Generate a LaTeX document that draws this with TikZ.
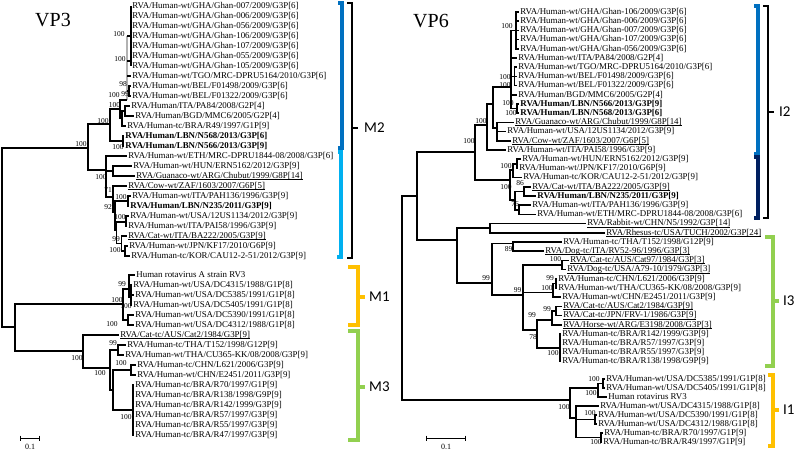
\documentclass[tikz,border=0pt]{standalone}
\usepackage{fontspec}
\setmainfont{Liberation Serif}
\newfontfamily\calib{Carlito}
\definecolor{cTop}{RGB}{0,112,192}
\definecolor{cLight}{RGB}{0,176,240}
\definecolor{cNavy}{RGB}{0,32,96}
\definecolor{cYel}{RGB}{255,192,0}
\definecolor{cGrn}{RGB}{146,208,80}
\newcommand\myul[1]{\setbox0=\hbox{#1}\rlap{\rule[-1.5pt]{\wd0}{0.65pt}}\box0}
\newcommand\leafn[4]{\node[lab] (#1) at (#2,#3) {#4};}
\newcommand\bsv[4]{\node[bsl] (#1) at (#2,#3) {#4};}
\begin{document}
\begin{tikzpicture}[x=1pt,y=-1pt,
  lab/.style={anchor=west,inner xsep=1.2pt,inner ysep=0pt,font=\fontsize{8.9}{9}\selectfont,text height=6.3pt,text depth=1.9pt},
  bsl/.style={inner sep=0pt,font=\fontsize{7.5}{8}\selectfont},
  tl/.style={line width=1.1pt},
  trr/.style={line width=1.7pt},
  cbr/.style={line width=3.5pt},
  kbr/.style={line width=1.8pt},
  clade/.style={font=\calib\fontsize{15}{16}\selectfont,anchor=west,inner sep=0pt},
  ttl/.style={font=\fontsize{20}{20}\selectfont,inner sep=0pt},
  scl/.style={font=\fontsize{8}{8}\selectfont,inner sep=0pt}]
\useasboundingbox (0,0) rectangle (800,450);
\fill[white] (0,0) rectangle (800,450);
% titles
\node[ttl] (t3) at (53,20) {VP3};
\node[ttl] (t6) at (431,21.5) {VP6};
%================ LEFT TREE (VP3) ================
\leafn{a1}{131}{6}{RVA/Human-wt/GHA/Ghan-007/2009/G3P[6]}
\leafn{a2}{131}{16}{RVA/Human-wt/GHA/Ghan-006/2009/G3P[6]}
\leafn{a3}{131}{26}{RVA/Human-wt/GHA/Ghan-056/2009/G3P[6]}
\leafn{a4}{131}{36}{RVA/Human-wt/GHA/Ghan-106/2009/G3P[6]}
\leafn{a5}{131}{46}{RVA/Human-wt/GHA/Ghan-107/2009/G3P[6]}
\leafn{a6}{131}{56}{RVA/Human-wt/GHA/Ghan-055/2009/G3P[6]}
\leafn{a7}{131}{66}{RVA/Human-wt/GHA/Ghan-105/2009/G3P[6]}
\leafn{a8}{131}{76}{RVA/Human-wt/TGO/MRC-DPRU5164/2010/G3P[6]}
\leafn{a9}{131}{86}{RVA/Human-wt/BEL/F01498/2009/G3P[6]}
\leafn{a10}{131}{96}{RVA/Human-wt/BEL/F01322/2009/G3P[6]}
\leafn{a11}{130}{106}{RVA/Human/ITA/PA84/2008/G2P[4]}
\leafn{a12}{134}{116}{RVA/Human/BGD/MMC6/2005/G2P[4]}
\leafn{a13}{126}{126}{RVA/Human-tc/BRA/R49/1997/G1P[9]}
\leafn{a14}{124}{136}{\textbf{RVA/Human/LBN/N568/2013/G3P[6]}}
\leafn{a15}{124}{146}{\textbf{RVA/Human/LBN/N566/2013/G3P[9]}}
\leafn{a16}{127}{156}{RVA/Human-wt/ETH/MRC-DPRU1844-08/2008/G3P[6]}
\leafn{a17}{132}{166}{RVA/Human-wt/HUN/ERN5162/2012/G3P[9]}
\leafn{a18}{135}{176}{\myul{RVA/Guanaco-wt/ARG/Chubut/1999/G8P[14]}}
\leafn{a19}{127}{186}{\myul{RVA/Cow-wt/ZAF/1603/2007/G6P[5]}}
\leafn{a20}{131}{196}{RVA/Human-wt/ITA/PAH136/1996/G3P[9]}
\leafn{a21}{129}{206}{\textbf{RVA/Human/LBN/N235/2011/G3P[9]}}
\leafn{a22}{129}{216}{RVA/Human-wt/USA/12US1134/2012/G3P[9]}
\leafn{a23}{127}{226}{RVA/Human-wt/ITA/PAI58/1996/G3P[9]}
\leafn{a24}{127}{236}{\myul{RVA/Cat-wt/ITA/BA222/2005/G3P[9]}}
\leafn{a25}{128}{246}{RVA/Human-wt/JPN/KF17/2010/G6P[9]}
\leafn{a26}{130}{256}{RVA/Human-tc/KOR/CAU12-2-51/2012/G3P[9]}
\leafn{a27}{135}{275}{Human rotavirus A strain RV3}
\leafn{a28}{132}{285}{RVA/Human-wt/USA/DC4315/1988/G1P[8]}
\leafn{a29}{134}{295}{RVA/Human-wt/USA/DC5385/1991/G1P[8]}
\leafn{a30}{132}{305}{RVA/Human-wt/USA/DC5405/1991/G1P[8]}
\leafn{a31}{134}{315}{RVA/Human-wt/USA/DC5390/1991/G1P[8]}
\leafn{a32}{134}{325}{RVA/Human-wt/USA/DC4312/1988/G1P[8]}
\leafn{a33}{119}{335}{\myul{RVA/Cat-tc/AUS/Cat2/1984/G3P[9]}}
\leafn{a34}{126}{345}{RVA/Human-tc/THA/T152/1998/G12P[9]}
\leafn{a35}{124}{355}{RVA/Human-wt/THA/CU365-KK/08/2008/G3P[9]}
\leafn{a36}{136}{365}{RVA/Human-tc/CHN/L621/2006/G3P[9]}
\leafn{a37}{136}{375}{RVA/Human-wt/CHN/E2451/2011/G3P[9]}
\leafn{a38}{134}{385}{RVA/Human-tc/BRA/R70/1997/G1P[9]}
\leafn{a39}{134}{395}{RVA/Human-tc/BRA/R138/1998/G9P[9]}
\leafn{a40}{134}{405}{RVA/Human-tc/BRA/R142/1999/G3P[9]}
\leafn{a41}{134}{415}{RVA/Human-tc/BRA/R57/1997/G3P[9]}
\leafn{a42}{134}{425}{RVA/Human-tc/BRA/R55/1997/G3P[9]}
\leafn{a43}{134}{435}{RVA/Human-tc/BRA/R47/1997/G3P[9]}
% left internal nodes
\coordinate (LR) at (2,236);
\coordinate (LM2) at (88,148);
\coordinate (LU) at (110,124);
\coordinate (LL) at (123,141);
\coordinate (LT) at (120,109);
\coordinate (LP) at (122,118);
\coordinate (LPB) at (125,111);
\coordinate (LGt) at (127,36);
\coordinate (LGb) at (127,100);
\coordinate (LG2) at (127,61);
\coordinate (LG3) at (127,76);
\coordinate (LG4) at (127,91);
\coordinate (LGh1) at (131,36);
\coordinate (LGh2) at (131,61);
\coordinate (LBEL) at (129,91);
\coordinate (LA) at (106,170);
\coordinate (LHG) at (113,171);
\coordinate (L71) at (113,197);
\coordinate (L92) at (115,212);
\coordinate (LPH) at (128,201);
\coordinate (LX) at (116.5,230);
\coordinate (L12) at (126,222);
\coordinate (L99) at (121.5,243.5);
\coordinate (LKK) at (125,251);
\coordinate (LB) at (15,327);
\coordinate (LM1) at (123,304);
\coordinate (LR3) at (129,289);
\coordinate (LDC) at (131,297);
\coordinate (L43) at (128,320);
\coordinate (LM3) at (83,351);
\coordinate (LN) at (110,368);
\coordinate (LTC) at (118,350);
\coordinate (LN2) at (113,390);
\coordinate (LLE) at (131,370);
\coordinate (LBR) at (133,410);
% gray overlap bar
\draw[gray!60,line width=2.6pt] (LGt) -- (LGb);
\draw[tl] (a1.west) -- (a7.west) (LGt) -- (LGh1) (LG2) -- (LGh2) (LG3) -- (a8.west)
  (LG4) -- (LBEL) (LBEL) |- (a9.west) (LBEL) |- (a10.west);
\draw[tl] (LR) |- (LM2) (LR) |- (LB)
  (LM2) |- (LU) (LM2) |- (LA)
  (LU) |- (LT) (LU) |- (LL)
  (LL) |- (a14.west) (LL) |- (a15.west)
  (LT) |- (LGb) (LT) |- (LP)
  (LP) |- (LPB) (LP) |- (a13.west)
  (LPB) |- (a11.west) (LPB) |- (a12.west)
  (LA) |- (a16.west) (LA) |- (LHG) (LA) |- (L71)
  (LHG) |- (a17.west) (LHG) |- (a18.west)
  (L71) |- (a19.west) (L71) |- (L92)
  (L92) |- (LPH) (L92) |- (LX)
  (LPH) |- (a20.west) (LPH) |- (a21.west)
  (LX) |- (L12) (LX) |- (L99)
  (L12) |- (a22.west) (L12) |- (a23.west)
  (L99) |- (a24.west) (L99) |- (LKK)
  (LKK) |- (a25.west) (LKK) |- (a26.west)
  (LB) |- (LM1) (LB) |- (LM3)
  (LM1) |- (LR3) (LM1) |- (L43)
  (LR3) |- (a27.west) (LR3) |- (LDC)
  (LDC) |- (a28.west) (LDC) |- (a29.west) (LDC) |- (a30.west)
  (L43) |- (a31.west) (L43) |- (a32.west)
  (LM3) |- (a33.west) (LM3) |- (LN)
  (LN) |- (LTC) (LN) |- (LN2)
  (LTC) |- (a34.west) (LTC) |- (a35.west)
  (LN2) |- (LLE) (LN2) |- (LBR)
  (LLE) |- (a36.west) (LLE) |- (a37.west)
  (LBR) |- (a38.west) (LBR) |- (a39.west) (LBR) |- (a40.west)
  (LBR) |- (a41.west) (LBR) |- (a42.west) (LBR) |- (a43.west);
% left bootstrap values
\bsv{bl1}{81}{144}{100}
\bsv{bl2}{103}{121}{100}
\bsv{bl3}{114.5}{105}{100}
\bsv{bl4}{119}{34}{100}
\bsv{bl5}{120}{59}{100}
\bsv{bl6}{123}{84}{98}
\bsv{bl7}{114}{95}{100}
\bsv{bl8}{125}{94}{99}
\bsv{bl9}{118}{147}{100}
\bsv{bl10}{101}{177}{100}
\bsv{bl11}{108}{190}{71}
\bsv{bl12}{108}{207}{92}
\bsv{bl13}{121}{197}{100}
\bsv{bl14}{120}{217}{100}
\bsv{bl15}{116}{239}{99}
\bsv{bl16}{115}{250}{100}
\bsv{bl17}{117}{300}{100}
\bsv{bl18}{122}{284}{99}
\bsv{bl19}{126}{306}{100}
\bsv{bl20}{112}{324}{100}
\bsv{bl21}{77}{358}{100}
\bsv{bl22}{100}{373}{100}
\bsv{bl23}{113}{343}{99}
\bsv{bl24}{121}{363}{100}
\bsv{bl25}{126}{417}{100}
% left scale bar
\coordinate (sl1) at (20,438); \coordinate (sl2) at (39,438);
\draw[line width=1pt] (sl1) -- (sl2) ([yshift=2.5pt]sl1) -- ([yshift=-2.5pt]sl1) ([yshift=2.5pt]sl2) -- ([yshift=-2.5pt]sl2);
\node[scl] (s1) at (30,447) {0.1};
% left brackets
\draw[cbr,cTop] (338,3) -- (342,3) -- (342,148) -- (338,148);
\draw[cbr,cLight] (338,152) -- (341,152) -- (341,257) -- (337,257);
\draw[kbr] (347,3) -- (352,3) -- (352,258) -- (347,258) (352,128) -- (358,128);
\node[clade] (m2) at (364,128) {M2};
\draw[cbr,cYel] (348,267) -- (358,267) -- (358,325) -- (348,325) (358,297) -- (365,297);
\node[clade] (m1) at (369,297) {M1};
\draw[cbr,cGrn] (348,331) -- (358,331) -- (358,440) -- (348,440) (358,387) -- (365,387);
\node[clade] (m3) at (369,387) {M3};
%================ RIGHT TREE (VP6) ================
\leafn{r1}{519}{12}{RVA/Human-wt/GHA/Ghan-106/2009/G3P[6]}
\leafn{r2}{519}{21.2}{RVA/Human-wt/GHA/Ghan-006/2009/G3P[6]}
\leafn{r3}{519}{30.4}{RVA/Human-wt/GHA/Ghan-007/2009/G3P[6]}
\leafn{r4}{519}{39.6}{RVA/Human-wt/GHA/Ghan-107/2009/G3P[6]}
\leafn{r5}{519}{48.8}{RVA/Human-wt/GHA/Ghan-056/2009/G3P[6]}
\leafn{r6}{517}{58}{RVA/Human-wt/ITA/PA84/2008/G2P[4]}
\leafn{r7}{517}{67.2}{RVA/Human-wt/TGO/MRC-DPRU5164/2010/G3P[6]}
\leafn{r8}{517}{76.4}{RVA/Human-wt/BEL/F01498/2009/G3P[6]}
\leafn{r9}{517}{85.6}{RVA/Human-wt/BEL/F01322/2009/G3P[6]}
\leafn{r10}{517}{94.8}{RVA/Human/BGD/MMC6/2005/G2P[4]}
\leafn{r11}{519}{104}{\textbf{RVA/Human/LBN/N566/2013/G3P[9]}}
\leafn{r12}{519}{113.2}{\textbf{RVA/Human/LBN/N568/2013/G3P[6]}}
\leafn{r13}{514}{122.4}{\myul{RVA/Guanaco-wt/ARG/Chubut/1999/G8P[14]}}
\leafn{r14}{506}{131.6}{RVA/Human-wt/USA/12US1134/2012/G3P[9]}
\leafn{r15}{511}{140.8}{\myul{RVA/Cow-wt/ZAF/1603/2007/G6P[5]}}
\leafn{r16}{506}{150}{RVA/Human-wt/ITA/PAI58/1996/G3P[9]}
\leafn{r17}{521}{159.2}{RVA/Human-wt/HUN/ERN5162/2012/G3P[9]}
\leafn{r18}{518}{168.4}{RVA/Human-wt/JPN/KF17/2010/G6P[9]}
\leafn{r19}{522}{177.6}{RVA/Human-tc/KOR/CAU12-2-51/2012/G3P[9]}
\leafn{r20}{531}{186.8}{\myul{RVA/Cat-wt/ITA/BA222/2005/G3P[9]}}
\leafn{r21}{536}{196}{\textbf{RVA/Human/LBN/N235/2011/G3P[9]}}
\leafn{r22}{531}{205.2}{RVA/Human-wt/ITA/PAH136/1996/G3P[9]}
\leafn{r23}{536}{214.4}{RVA/Human-wt/ETH/MRC-DPRU1844-08/2008/G3P[6]}
\leafn{r24}{586}{223.6}{\myul{RVA/Rabbit-wt/CHN/N5/1992/G3P[14]}}
\leafn{r25}{605}{232.8}{\myul{RVA/Rhesus-tc/USA/TUCH/2002/G3P[24]}}
\leafn{r26}{562}{242}{RVA/Human-tc/THA/T152/1998/G12P[9]}
\leafn{r27}{544}{251.2}{\myul{RVA/Dog-tc/ITA/RV52-96/1996/G3P[3]}}
\leafn{r28}{569}{260.4}{\myul{RVA/Cat-tc/AUS/Cat97/1984/G3P[3]}}
\leafn{r29}{566}{269.6}{\myul{RVA/Dog-tc/USA/A79-10/1979/G3P[3]}}
\leafn{r30}{557}{278.8}{RVA/Human-tc/CHN/L621/2006/G3P[9]}
\leafn{r31}{557}{288}{RVA/Human-wt/THA/CU365-KK/08/2008/G3P[9]}
\leafn{r32}{561}{297.2}{RVA/Human-wt/CHN/E2451/2011/G3P[9]}
\leafn{r33}{562}{306.4}{\myul{RVA/Cat-tc/AUS/Cat2/1984/G3P[9]}}
\leafn{r34}{562}{315.6}{\myul{RVA/Cat-tc/JPN/FRV-1/1986/G3P[9]}}
\leafn{r35}{562}{324.8}{\myul{RVA/Horse-wt/ARG/E3198/2008/G3P[3]}}
\leafn{r36}{561}{334}{RVA/Human-tc/BRA/R142/1999/G3P[9]}
\leafn{r37}{561}{343.2}{RVA/Human-tc/BRA/R57/1997/G3P[9]}
\leafn{r38}{561}{352.4}{RVA/Human-tc/BRA/R55/1997/G3P[9]}
\leafn{r39}{561}{361.6}{RVA/Human-tc/BRA/R138/1998/G9P[9]}
\leafn{r40}{605}{379}{RVA/Human-wt/USA/DC5385/1991/G1P[8]}
\leafn{r41}{605}{388}{RVA/Human-wt/USA/DC5405/1991/G1P[8]}
\leafn{r42}{607}{397}{Human rotavirus RV3}
\leafn{r43}{599}{406}{RVA/Human-wt/USA/DC4315/1988/G1P[8]}
\leafn{r44}{597}{415}{RVA/Human-wt/USA/DC5390/1991/G1P[8]}
\leafn{r45}{597}{424}{RVA/Human-wt/USA/DC4312/1988/G1P[8]}
\leafn{r46}{603}{433}{RVA/Human-tc/BRA/R70/1997/G1P[9]}
\leafn{r47}{602}{442}{RVA/Human-tc/BRA/R49/1997/G1P[9]}
% right internal nodes
\coordinate (RRt) at (402,298);
\coordinate (RA) at (417,196);
\coordinate (RI2) at (475,152);
\coordinate (RP) at (487,125);
\coordinate (RQ) at (493,104);
\coordinate (RRc) at (511,87);
\coordinate (RG) at (516,30.4);
\coordinate (RV) at (514.5,76.4);
\coordinate (RW) at (517,108.6);
\coordinate (RS) at (497,128);
\coordinate (RX) at (510,180);
\coordinate (RY) at (513,170);
\coordinate (RY1) at (517,163.8);
\coordinate (RZ) at (515,200);
\coordinate (RZ1) at (524,191.4);
\coordinate (RZ2) at (519,209.8);
\coordinate (RB) at (457,240);
\coordinate (RRR) at (490,228.2);
\coordinate (RC) at (492,283);
\coordinate (RTR) at (513,243.5);
\coordinate (RE) at (523,295);
\coordinate (RCA) at (562,265);
\coordinate (RL) at (553,292.5);
\coordinate (RL1) at (556,283.4);
\coordinate (RF) at (537,330);
\coordinate (RH) at (552,320.2);
\coordinate (RH1) at (556,311);
\coordinate (RBR) at (560,347.8);
\coordinate (RI1) at (570,400);
\coordinate (R1a) at (598,388);
\coordinate (R1aa) at (603,383.5);
\coordinate (R1b) at (576,418);
\coordinate (R1d) at (595,419.5);
\coordinate (R1e) at (601,437.5);
\draw[trr] (RRt) |- (RA) (RRt) |- (RI1)
  (RA) |- (RI2) (RA) |- (RB)
  (RI2) |- (RP) (RI2) |- (RX)
  (RP) |- (RQ) (RP) |- (r16.west)
  (RQ) |- (RRc) (RQ) |- (RS)
  (RRc) |- (RG) (RRc) |- (r6.west) (RRc) |- (RV) (RRc) |- (r10.west) (RRc) |- (RW)
  (RG) |- (r1.west) (RG) |- (r2.west) (RG) |- (r3.west) (RG) |- (r4.west) (RG) |- (r5.west)
  (RV) |- (r7.west) (RV) |- (r8.west) (RV) |- (r9.west)
  (RW) |- (r11.west) (RW) |- (r12.west)
  (RS) |- (r13.west) (RS) |- (r14.west) (RS) |- (r15.west)
  (RX) |- (RY) (RX) |- (RZ)
  (RY) |- (RY1) (RY) |- (r19.west)
  (RY1) |- (r17.west) (RY1) |- (r18.west)
  (RZ) |- (RZ1) (RZ) |- (RZ2)
  (RZ1) |- (r20.west) (RZ1) |- (r21.west)
  (RZ2) |- (r22.west) (RZ2) |- (r23.west)
  (RB) |- (RRR) (RB) |- (RC)
  (RRR) |- (r24.west) (RRR) |- (r25.west)
  (RC) |- (RTR) (RC) |- (RE)
  (RTR) |- (r26.west) (RTR) |- (r27.west)
  (RE) |- (RCA) (RE) |- (RL) (RE) |- (RF)
  (RCA) |- (r28.west) (RCA) |- (r29.west)
  (RL) |- (RL1) (RL) |- (r32.west)
  (RL1) |- (r30.west) (RL1) |- (r31.west)
  (RF) |- (RH) (RF) |- (RBR)
  (RH) |- (RH1) (RH) |- (r35.west)
  (RH1) |- (r33.west) (RH1) |- (r34.west)
  (RBR) |- (r36.west) (RBR) |- (r37.west) (RBR) |- (r38.west) (RBR) |- (r39.west)
  (RI1) |- (R1a) (RI1) |- (R1b)
  (R1a) |- (R1aa) (R1a) |- (r42.west)
  (R1aa) |- (r40.west) (R1aa) |- (r41.west)
  (R1b) |- (r43.west) (R1b) |- (R1d) (R1b) |- (R1e)
  (R1d) |- (r44.west) (R1d) |- (r45.west)
  (R1e) |- (r46.west) (R1e) |- (r47.west);
% right bootstrap values
\bsv{br1}{507}{26}{100}
\bsv{br2}{505}{77.5}{100}
\bsv{br3}{505}{85}{100}
\bsv{br4}{508}{103}{100}
\bsv{br5}{511}{113}{100}
\bsv{br6}{481}{121}{100}
\bsv{br7}{469}{141}{100}
\bsv{br8}{506}{166}{100}
\bsv{br9}{506}{187}{100}
\bsv{br10}{520}{183}{86}
\bsv{br11}{515}{204}{76}
\bsv{br12}{508.5}{249}{89}
\bsv{br13}{486}{278}{99}
\bsv{br14}{517.5}{290}{99}
\bsv{br15}{555.5}{259.5}{100}
\bsv{br16}{550}{278}{99}
\bsv{br17}{547}{288}{100}
\bsv{br18}{547}{309}{99}
\bsv{br19}{532}{315}{99}
\bsv{br20}{533}{337}{78}
\bsv{br21}{553}{353}{100}
\bsv{br22}{564}{407}{100}
\bsv{br23}{594}{379}{100}
\bsv{br24}{591}{393}{100}
\bsv{br25}{590}{413}{100}
\bsv{br26}{596}{442.5}{100}
% right scale bar
\coordinate (sr1) at (426,438); \coordinate (sr2) at (465,438);
\draw[line width=1pt] (sr1) -- (sr2) ([yshift=2.5pt]sr1) -- ([yshift=-2.5pt]sr1) ([yshift=2.5pt]sr2) -- ([yshift=-2.5pt]sr2);
\node[scl] (s2) at (446,447) {0.1};
% right brackets
\draw[cbr,cTop] (754,6) -- (758,6) -- (758,154) -- (754,154);
\draw[cbr,cNavy] (754,157) -- (758,157) -- (758,218) -- (754,218);
\draw[kbr] (763,6) -- (768,6) -- (768,218) -- (763,218) (768,112) -- (774,112);
\node[clade] (i2) at (779,112) {I2};
\draw[cbr,cGrn] (765,237) -- (773,237) -- (773,366) -- (765,366) (773,301) -- (779,301);
\node[clade] (i3) at (783,301) {I3};
\draw[cbr,cYel] (768,375) -- (773,375) -- (773,446) -- (768,446) (773,410) -- (779,410);
\node[clade] (i1) at (783,410) {I1};
\end{tikzpicture}
\end{document}
